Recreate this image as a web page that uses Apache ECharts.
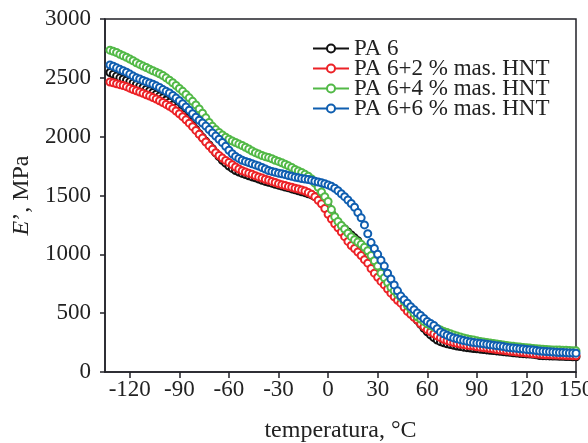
<!DOCTYPE html>
<html>
<head>
<meta charset="utf-8">
<script src="https://cdn.jsdelivr.net/npm/echarts@6/dist/echarts.min.js"></script>
<style>html,body{margin:0;padding:0;background:#fff}#c{width:588px;height:443px}</style>
</head>
<body>
<div id="c"></div>
<script>
// temperatures (°C), shared by all series
const temps = [
-132,-130,-128,-126,-124,-122,-120,-118,-116,-114,
-112,-110,-108,-106,-104,-102,-100,-98,-96,-94,
-92,-90,-88,-86,-84,-82,-80,-78,-76,-74,
-72,-70,-68,-66,-64,-62,-60,-58,-56,-54,
-52,-50,-48,-46,-44,-42,-40,-38,-36,-34,
-32,-30,-28,-26,-24,-22,-20,-18,-16,-14,
-12,-10,-8,-6,-4,-2,0,2,4,6,
8,10,12,14,16,18,20,22,24,26,
28,30,32,34,36,38,40,42,44,46,
48,50,52,54,56,58,60,62,64,66,
68,70,72,74,76,78,80,82,84,86,
88,90,92,94,96,98,100,102,104,106,
108,110,112,114,116,118,120,122,124,126,
128,130,132,134,136,138,140,142,144,146,
148,150];

const seriesNames = ['PA 6', 'PA 6+2 % mas. HNT', 'PA 6+4 % mas. HNT', 'PA 6+6 % mas. HNT'];

const pa6 = [
2545,2530,2515,2500,2490,2480,2468,2456,2444,2430,
2418,2404,2390,2375,2360,2345,2330,2312,2292,2270,
2245,2218,2190,2160,2128,2095,2060,2025,1992,1960,
1930,1898,1862,1830,1800,1775,1750,1730,1712,1700,
1688,1678,1668,1658,1650,1640,1630,1620,1612,1605,
1596,1588,1580,1572,1565,1556,1548,1540,1532,1524,
1515,1505,1490,1475,1455,1430,1400,1350,1310,1270,
1240,1215,1190,1165,1140,1115,1080,1030,980,930,
880,840,800,765,730,695,660,630,600,570,
535,500,470,440,405,372,342,315,292,272,
258,248,240,233,227,221,216,211,207,203,
200,197,194,191,188,185,182,179,176,173,
170,167,164,161,158,156,154,152,150,147,
140,139,138,137,136,135,134,133,132,131,
130,129];

const pa6_2 = [
2465,2458,2450,2442,2435,2425,2412,2400,2390,2380,
2368,2356,2345,2332,2320,2305,2290,2274,2258,2240,
2218,2195,2170,2143,2115,2085,2053,2020,1988,1955,
1922,1892,1864,1840,1818,1798,1780,1762,1742,1725,
1710,1700,1690,1680,1668,1658,1648,1638,1630,1620,
1610,1600,1592,1585,1576,1570,1562,1555,1547,1538,
1525,1510,1490,1460,1430,1390,1340,1300,1260,1225,
1190,1150,1110,1075,1050,1020,990,955,925,880,
840,805,770,740,705,670,640,610,585,550,
515,490,465,442,410,385,360,342,325,308,
292,278,268,258,250,244,238,233,228,224,
220,215,211,207,203,199,195,191,188,184,
180,177,174,171,168,165,162,159,156,153,
150,149,147,146,145,144,143,142,141,140,
139,138];

const pa6_4 = [
2735,2725,2715,2700,2688,2675,2660,2645,2628,2614,
2600,2588,2574,2560,2548,2535,2520,2500,2480,2458,
2435,2410,2385,2358,2330,2300,2270,2235,2200,2160,
2120,2088,2060,2035,2015,1995,1978,1963,1950,1937,
1925,1910,1895,1878,1864,1852,1840,1830,1822,1812,
1800,1790,1778,1766,1752,1738,1722,1708,1695,1680,
1664,1640,1605,1570,1530,1490,1450,1380,1320,1280,
1245,1215,1180,1150,1125,1105,1085,1060,1030,990,
945,900,840,800,760,720,690,660,635,600,
565,535,500,470,450,430,410,395,382,370,
358,345,335,325,315,305,298,290,283,277,
271,265,260,255,250,246,242,238,234,229,
225,222,218,215,212,209,206,203,200,198,
195,193,191,190,188,187,186,185,184,182,
181,180];

const pa6_6 = [
2609,2598,2585,2572,2560,2548,2532,2515,2500,2490,
2478,2466,2456,2446,2432,2418,2400,2385,2371,2350,
2328,2305,2280,2252,2225,2195,2165,2140,2116,2090,
2060,2032,2005,1978,1950,1918,1885,1855,1832,1815,
1800,1790,1780,1770,1760,1750,1738,1725,1712,1705,
1698,1690,1684,1678,1670,1664,1656,1650,1644,1640,
1635,1630,1622,1615,1608,1600,1590,1578,1562,1540,
1515,1490,1462,1432,1400,1355,1310,1250,1175,1100,
1050,1000,950,900,840,790,740,690,645,615,
585,555,530,501,480,455,430,412,395,368,
340,325,312,300,290,282,275,268,262,256,
250,247,244,240,236,232,228,224,220,216,
210,207,204,201,198,195,192,189,186,182,
178,176,174,172,170,168,166,165,164,162,
161,160];

const xTicks = [-120,-90,-60,-30,0,30,60,90,120,150];
const colors = ['#111111', '#ec2227', '#52b947', '#0f5eb0'];
const values = [pa6, pa6_2, pa6_4, pa6_6];

const FONT = '"Liberation Serif","Times New Roman",serif';
const AX = '#222228';
const TXT = '#222';
const chart = echarts.init(document.getElementById('c'), null, {renderer: 'canvas'});

// legend-only line series (line + circle icon)
const legendSeries = seriesNames.map((name, k) => ({
  name: name, type: 'line', data: [],
  symbol: 'emptyCircle', symbolSize: 8,
  itemStyle: {color: colors[k], borderColor: colors[k], borderWidth: 1.5},
  lineStyle: {color: colors[k], width: 1.5}
}));

// data points as hollow circles
const dataSeries = seriesNames.map((name, k) => ({
  name: name,
  type: 'scatter',
  data: temps.map((t, i) => [t, values[k][i]]).filter(d => d[1] !== undefined),
  symbol: 'emptyCircle',
  symbolSize: 7,
  itemStyle: {color: colors[k], borderColor: colors[k], borderWidth: 1.5, opacity: 1},
  emphasis: {disabled: true},
  z: 2 + k
}));

chart.setOption({
  animation: false,
  backgroundColor: '#ffffff',
  grid: {left: 105, right: 12, top: 19, bottom: 71, containLabel: false, outerBoundsMode: 'none',
         show: true, borderColor: AX, borderWidth: 1.5, backgroundColor: 'transparent'},
  legend: {
    orient: 'vertical', left: 307, top: 32,
    itemWidth: 36, itemHeight: 10, itemGap: -3,
    textStyle: {fontFamily: FONT, fontSize: 23, color: TXT, lineHeight: 20},
    data: seriesNames
  },
  xAxis: {
    type: 'value', min: -135, max: 150,
    name: 'temperatura, °C', nameLocation: 'middle', nameGap: 47,
    nameTextStyle: {fontFamily: FONT, fontSize: 24, color: TXT},
    axisLine: {show: true, onZero: false, lineStyle: {color: AX, width: 1.5}},
    axisTick: {show: true, inside: false, length: 6, customValues: xTicks, lineStyle: {color: AX, width: 1.5}},
    axisLabel: {customValues: xTicks, margin: 6, fontFamily: FONT, fontSize: 23, color: TXT},
    splitLine: {show: false}
  },
  yAxis: {
    type: 'value', min: 0, max: 3000, interval: 500,
    name: '{i|E}’, MPa', nameLocation: 'middle', nameGap: 70,
    nameTextStyle: {fontFamily: FONT, fontSize: 24, color: TXT,
      rich: {i: {fontFamily: FONT, fontSize: 24, fontStyle: 'italic', color: TXT}}},
    axisLine: {show: true, onZero: false, lineStyle: {color: AX, width: 1.5}},
    axisTick: {show: true, inside: false, length: 5, lineStyle: {color: AX, width: 1.5}},
    axisLabel: {margin: 14, fontFamily: FONT, fontSize: 23, color: TXT,
      formatter: v => String(v)},
    splitLine: {show: false}
  },
  series: legendSeries.concat(dataSeries)
});
</script>
</body>
</html>
